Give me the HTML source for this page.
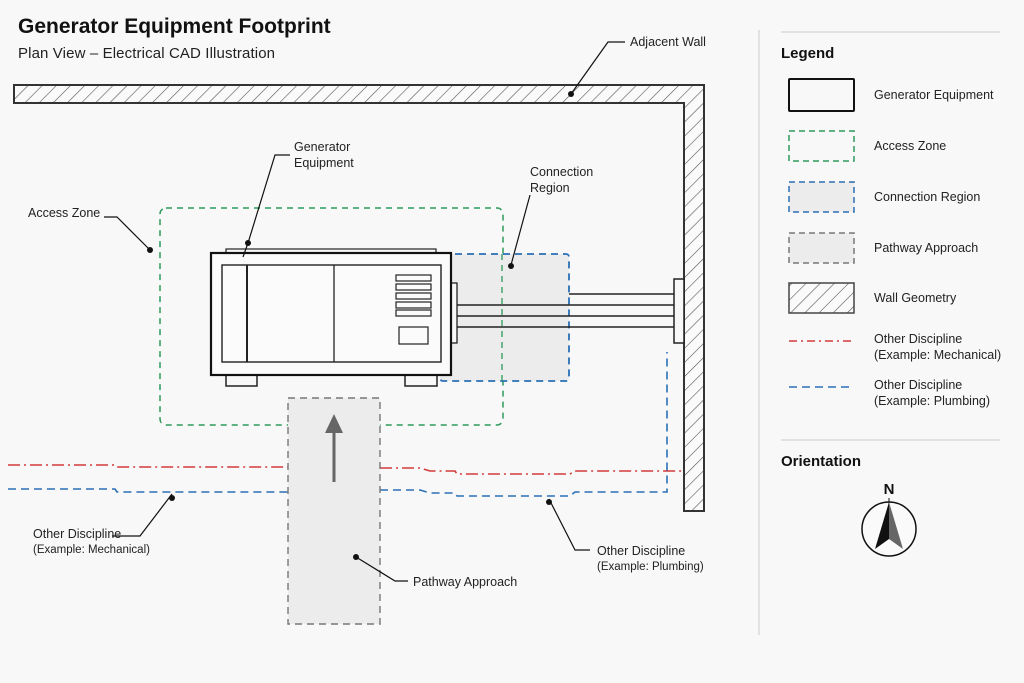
<!DOCTYPE html>
<html><head><meta charset="utf-8"><style>
body{margin:0;background:#f8f8f8;}
svg{display:block;font-family:"Liberation Sans",sans-serif;}
</style></head><body>
<svg width="1024" height="683" viewBox="0 0 1024 683" xmlns="http://www.w3.org/2000/svg">
<defs>
<pattern id="h" patternUnits="userSpaceOnUse" width="10" height="10" patternTransform="rotate(45)">
<rect width="10" height="10" fill="#fafafa"/><line x1="0" y1="0" x2="0" y2="10" stroke="#555" stroke-width="1.2"/>
</pattern>
</defs>
<rect width="1024" height="683" fill="#f8f8f8"/>
<text x="18" y="33" font-size="21" font-weight="bold" fill="#111">Generator Equipment Footprint</text>
<text x="18" y="58" font-size="15" fill="#222" textLength="257">Plan View – Electrical CAD Illustration</text>

<path d="M14 85 H704 V511 H684 V103 H14 Z" fill="url(#h)" stroke="#333" stroke-width="2"/>

<rect x="160" y="208" width="343" height="217" rx="6" fill="none" stroke="#2e9a5a" stroke-width="1.5" stroke-dasharray="6,5"/>
<rect x="440" y="254" width="129" height="127" rx="3" fill="#ececec" stroke="#2a6fb5" stroke-width="1.8" stroke-dasharray="7,5"/>
<line x1="502" y1="254" x2="502" y2="381" stroke="#2e9a5a" stroke-width="1.3" stroke-dasharray="6,5"/>

<g stroke="#222" stroke-width="1.4">
<line x1="457" y1="305" x2="676" y2="305"/><line x1="457" y1="316" x2="676" y2="316"/><line x1="457" y1="327" x2="676" y2="327"/><line x1="569" y1="294" x2="676" y2="294"/>
</g>
<rect x="674" y="279" width="10" height="64" fill="#f8f8f8" stroke="#222" stroke-width="1.5"/>

<rect x="226" y="249" width="210" height="5" fill="#f8f8f8" stroke="#222" stroke-width="1.2"/>
<rect x="226" y="374" width="31" height="12" fill="#f8f8f8" stroke="#222" stroke-width="1.5"/>
<rect x="405" y="374" width="32" height="12" fill="#f8f8f8" stroke="#222" stroke-width="1.5"/>
<rect x="451" y="283" width="6" height="60" fill="#f8f8f8" stroke="#222" stroke-width="1.3"/>
<rect x="211" y="253" width="240" height="122" fill="#fbfbfb" stroke="#111" stroke-width="2.2"/>
<rect x="222" y="265" width="219" height="97" fill="none" stroke="#222" stroke-width="1.4"/>
<line x1="247" y1="265" x2="247" y2="362" stroke="#222" stroke-width="2"/>
<line x1="334" y1="265" x2="334" y2="362" stroke="#222" stroke-width="1.3"/>
<g fill="none" stroke="#222" stroke-width="1.2">
<rect x="396" y="275" width="35" height="6"/><rect x="396" y="284" width="35" height="6"/><rect x="396" y="293" width="35" height="6"/><rect x="396" y="302" width="35" height="6"/><rect x="396" y="310" width="35" height="6"/>
<rect x="399" y="327" width="29" height="17"/>
</g>

<polyline points="8,465 115,465 117,467 288,467" fill="none" stroke="#d23a3a" stroke-width="1.6" stroke-dasharray="12,4,2,4"/>
<polyline points="380,468 420,468 430,471 455,471 457,474 570,474 575,471 684,471" fill="none" stroke="#d23a3a" stroke-width="1.6" stroke-dasharray="12,4,2,4"/>
<polyline points="8,489 115,489 117,492 288,492" fill="none" stroke="#2a6fb5" stroke-width="1.6" stroke-dasharray="8,5"/>
<polyline points="380,490 420,490 430,493 455,493 457,496 570,496 575,492 667,492 667,352" fill="none" stroke="#2a6fb5" stroke-width="1.6" stroke-dasharray="8,5"/>

<rect x="288" y="398" width="92" height="226" fill="#ececec" stroke="#777" stroke-width="1.4" stroke-dasharray="7,5"/>
<line x1="334" y1="482" x2="334" y2="430" stroke="#666" stroke-width="3"/>
<polygon points="334,414 325,433 343,433" fill="#666"/>

<g stroke="#111" stroke-width="1.2" fill="none">
<polyline points="625,42 608,42 571,94"/>
<polyline points="290,155 275,155 248,243 243,257"/>
<polyline points="530,195 511,265"/>
<polyline points="104,217 117,217 150,250"/>
<polyline points="112,536 140,536 172,494"/>
<polyline points="590,550 575,550 549,499"/>
<polyline points="408,581 395,581 356,557"/>
</g>
<g fill="#111">
<circle cx="571" cy="94" r="3"/><circle cx="248" cy="243" r="3"/><circle cx="511" cy="266" r="3"/><circle cx="150" cy="250" r="3"/><circle cx="172" cy="498" r="3"/><circle cx="549" cy="502" r="3"/><circle cx="356" cy="557" r="3"/>
</g>
<g font-size="12.5" fill="#222">
<text x="630" y="46">Adjacent Wall</text>
<text x="294" y="151">Generator</text><text x="294" y="167">Equipment</text>
<text x="530" y="176">Connection</text><text x="530" y="192">Region</text>
<text x="28" y="217">Access Zone</text>
<text x="33" y="538">Other Discipline</text><text x="33" y="553" font-size="11.5">(Example: Mechanical)</text>
<text x="597" y="555">Other Discipline</text><text x="597" y="570" font-size="11.5">(Example: Plumbing)</text>
<text x="413" y="586">Pathway Approach</text>
</g>

<line x1="759" y1="30" x2="759" y2="635" stroke="#ccc" stroke-width="1"/>
<line x1="781" y1="32" x2="1000" y2="32" stroke="#ccc"/>
<line x1="781" y1="440" x2="1000" y2="440" stroke="#ccc"/>
<text x="781" y="58" font-size="15" font-weight="bold" fill="#111">Legend</text>
<rect x="789" y="79" width="65" height="32" rx="1" fill="none" stroke="#111" stroke-width="2"/>
<rect x="789" y="131" width="65" height="30" fill="none" stroke="#2e9a5a" stroke-width="1.5" stroke-dasharray="6,4"/>
<rect x="789" y="182" width="65" height="30" fill="#ececec" stroke="#2a6fb5" stroke-width="1.5" stroke-dasharray="6,4"/>
<rect x="789" y="233" width="65" height="30" fill="#ececec" stroke="#777" stroke-width="1.5" stroke-dasharray="6,4"/>
<rect x="789" y="283" width="65" height="30" fill="url(#h)" stroke="#444" stroke-width="1.5"/>
<line x1="789" y1="341" x2="854" y2="341" stroke="#d23a3a" stroke-width="1.5" stroke-dasharray="8,4,2,4"/>
<line x1="789" y1="387" x2="854" y2="387" stroke="#2a6fb5" stroke-width="1.5" stroke-dasharray="8,5"/>
<g font-size="12.5" fill="#222">
<text x="874" y="99">Generator Equipment</text>
<text x="874" y="150">Access Zone</text>
<text x="874" y="201">Connection Region</text>
<text x="874" y="252">Pathway Approach</text>
<text x="874" y="302">Wall Geometry</text>
<text x="874" y="343">Other Discipline</text><text x="874" y="359">(Example: Mechanical)</text>
<text x="874" y="389">Other Discipline</text><text x="874" y="405">(Example: Plumbing)</text>
</g>
<text x="781" y="466" font-size="15" font-weight="bold" fill="#111">Orientation</text>
<text x="889" y="494" font-size="15" font-weight="bold" text-anchor="middle" fill="#111">N</text>
<circle cx="889" cy="529" r="27" fill="#fafafa" stroke="#111" stroke-width="1.5"/>
<line x1="889" y1="498" x2="889" y2="504" stroke="#111"/>
<polygon points="889,502 875,549 889,539" fill="#111"/>
<polygon points="889,502 903,549 889,539" fill="#666"/>
</svg>
</body></html>
